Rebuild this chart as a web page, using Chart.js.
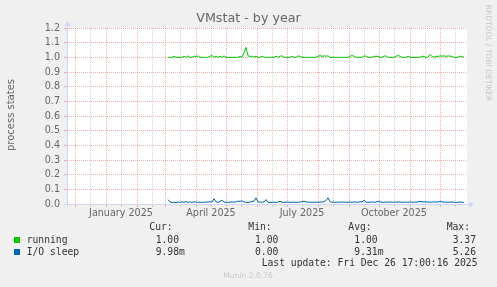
<!DOCTYPE html>
<html>
<head>
<meta charset="utf-8">
<script src="https://cdn.jsdelivr.net/npm/chart.js@4/dist/chart.umd.min.js"></script>
<style>
body { margin: 0; background: #f0f0f0; }
canvas { display: block; }
</style>
</head>
<body>
<canvas id="vmstat" width="497" height="287"></canvas>
<script>
// days are counted from 1 January 2025, one value every 2 days
var firstDay = 62;
var dayStep = 2;
var running = [
    1.00, 1.00, 1.00, 1.008, 1.00, 1.00, 1.00, 1.00, 1.008, 1.00,
    1.01, 1.00, 1.00, 1.008, 1.006, 1.01, 1.00, 1.00, 1.00, 1.00,
    1.00, 1.008, 1.012, 1.00, 1.008, 1.00, 1.008, 1.00, 1.01, 1.00,
    1.00, 1.00, 1.00, 1.00, 1.00, 1.00, 1.008, 1.00, 1.03, 1.068,
    1.01, 1.006, 1.008, 1.00, 1.008, 1.00, 1.00, 1.008, 1.00, 1.00,
    1.00, 1.00, 1.00, 1.00, 1.008, 1.00, 1.008, 1.01, 1.00, 1.00,
    1.00, 1.00, 1.008, 1.00, 1.00, 1.01, 1.006, 1.00, 1.00, 1.00,
    1.00, 1.00, 1.00, 1.00, 1.00, 1.008, 1.012, 1.006, 1.01, 1.008,
    1.01, 1.00, 1.00, 1.00, 1.00, 1.00, 1.00, 1.00, 1.00, 1.00,
    1.00, 1.008, 1.012, 1.008, 1.00, 1.00, 1.00, 1.00, 1.01, 1.008,
    1.00, 1.00, 1.00, 1.008, 1.006, 1.008, 1.00, 1.00, 1.008, 1.01,
    1.00, 1.00, 1.00, 1.00, 1.008, 1.012, 1.008, 1.00, 1.00, 1.00,
    1.008, 1.00, 1.00, 1.00, 1.00, 1.00, 1.00, 1.008, 1.006, 1.00,
    1.00, 1.02, 1.006, 1.00, 1.008, 1.006, 1.01, 1.008, 1.01, 1.006,
    1.01, 1.008, 1.006, 1.00, 1.00, 1.00, 1.008, 1.006, 1.00
];
var ioSleep = [
    0.03, 0.014, 0.01, 0.012, 0.01, 0.013, 0.011, 0.014, 0.012, 0.016,
    0.012, 0.014, 0.011, 0.015, 0.013, 0.012, 0.012, 0.012, 0.011, 0.014,
    0.012, 0.016, 0.013, 0.036, 0.014, 0.012, 0.016, 0.026, 0.013, 0.011,
    0.012, 0.012, 0.015, 0.013, 0.014, 0.02, 0.018, 0.022, 0.014, 0.012,
    0.011, 0.013, 0.016, 0.02, 0.042, 0.014, 0.013, 0.012, 0.014, 0.03,
    0.012, 0.01, 0.011, 0.012, 0.011, 0.013, 0.018, 0.012, 0.011, 0.012,
    0.013, 0.011, 0.012, 0.013, 0.011, 0.012, 0.013, 0.015, 0.02, 0.014,
    0.012, 0.013, 0.011, 0.012, 0.013, 0.012, 0.014, 0.013, 0.016, 0.024,
    0.042, 0.016, 0.012, 0.013, 0.011, 0.013, 0.012, 0.014, 0.012, 0.013,
    0.011, 0.013, 0.012, 0.014, 0.013, 0.012, 0.016, 0.014, 0.026, 0.013,
    0.011, 0.012, 0.014, 0.012, 0.013, 0.018, 0.014, 0.012, 0.011, 0.013,
    0.012, 0.014, 0.012, 0.013, 0.012, 0.014, 0.013, 0.011, 0.012, 0.013,
    0.012, 0.014, 0.012, 0.013, 0.012, 0.015, 0.018, 0.014, 0.016, 0.013,
    0.014, 0.012, 0.013, 0.015, 0.013, 0.014, 0.017, 0.014, 0.013, 0.012,
    0.013, 0.012, 0.014, 0.012, 0.011, 0.012, 0.013, 0.012, 0.01
];
var yTicks = [0, 0.1, 0.2, 0.3, 0.4, 0.5, 0.6, 0.7, 0.8, 0.9, 1.0, 1.1, 1.2];
var monthStarts = [-31, 0, 31, 59, 90, 120, 151, 181, 212, 243, 273, 304, 334];
var midMonths = [-16, 15, 46, 74, 105, 135, 166, 196, 227, 258, 288, 319, 349];
var labelDays = [15, 105, 196, 288];
var labelTexts = ["January 2025", "April 2025", "July 2025", "October 2025"];

var legendNames = ["running", "I/O sleep"];
var legendCur = ["1.00", "9.98m"];
var legendMin = ["1.00", "0.00"];
var legendAvg = ["1.00", "9.31m"];
var legendMax = ["3.37", "5.26"];
var lastUpdate = "Last update: Fri Dec 26 17:00:16 2025";

var colors = ["#00cc00", "#0066b3"];
var gridColor = "rgba(143,143,143,0.4)";
var mgridColor = "rgba(222,79,79,0.45)";
var axisColor = "#cfd6f8";
var fontColor = "#666666";

function toPoints(values) {
    return values.map(function (v, i) { return { x: firstDay + i * dayStep, y: v }; });
}
var xTicks = monthStarts.concat(midMonths).sort(function (a, b) { return a - b; });

var munin = {
    id: 'munin',
    beforeDraw: function (chart) {
        var c = chart.ctx, a = chart.chartArea;
        c.save();
        c.fillStyle = "#f0f0f0";
        c.fillRect(0, 0, chart.width, chart.height);
        c.fillStyle = "#ffffff";
        c.fillRect(a.left, a.top, a.right - a.left, a.bottom - a.top);
        c.restore();
    },
    afterDraw: function (chart) {
        var c = chart.ctx, a = chart.chartArea;
        c.save();
        // axes with arrows
        c.strokeStyle = axisColor;
        c.fillStyle = axisColor;
        c.lineWidth = 1;
        c.beginPath();
        c.moveTo(a.left - 3, a.bottom + 0.5);
        c.lineTo(a.right + 2, a.bottom + 0.5);
        c.moveTo(a.left + 0.5, a.bottom + 3);
        c.lineTo(a.left + 0.5, a.top - 2);
        c.stroke();
        c.beginPath();
        c.moveTo(a.right + 7, a.bottom + 0.5);
        c.lineTo(a.right + 2, a.bottom - 2.5);
        c.lineTo(a.right + 2, a.bottom + 3.5);
        c.fill();
        c.beginPath();
        c.moveTo(a.left + 0.5, a.top - 7);
        c.lineTo(a.left - 2.5, a.top - 2);
        c.lineTo(a.left + 3.5, a.top - 2);
        c.fill();

        c.fillStyle = fontColor;
        c.textBaseline = "middle";
        c.textAlign = "center";
        c.font = "12.7px 'DejaVu Sans'";
        c.fillText("VMstat - by year", 248.5, 19);

        c.save();
        c.translate(11, 115);
        c.rotate(-Math.PI / 2);
        c.font = "10px 'DejaVu Sans'";
        c.fillText("process states", 0, 0);
        c.restore();

        c.save();
        c.fillStyle = "#c8c8c8";
        c.translate(488, 53);
        c.rotate(Math.PI / 2);
        c.font = "7.5px 'DejaVu Sans'";
        c.fillText("RRDTOOL / TOBI OETIKER", 0, 0);
        c.restore();

        c.fillStyle = "#c8c8c8";
        c.font = "7.6px 'DejaVu Sans'";
        c.fillText("Munin 2.0.76", 248, 276);

        // legend table
        c.textAlign = "left";
        c.fillStyle = "#333333";
        c.font = "9.7px 'DejaVu Sans Mono'";
        c.fillText("Cur:", 149.3, 227.3);
        c.fillText("Min:", 248.3, 227.3);
        c.fillText("Avg:", 348.3, 227.3);
        c.fillText("Max:", 446.7, 227.3);
        for (var i = 0; i < legendNames.length; i++) {
            var y = 240 + i * 12;
            c.fillStyle = colors[i];
            c.fillRect(14, y - 3, 6, 6);
            c.fillStyle = "#333333";
            c.fillText(legendNames[i], 26.7, y);
            c.fillText(legendCur[i], 155.7, y);
            c.fillText(legendMin[i], 255, y);
            c.fillText(legendAvg[i], 354.3, y);
            c.fillText(legendMax[i], 452.7, y);
        }
        c.fillText(lastUpdate, 261.7, 263.5);
        c.restore();
    }
};

var chart = new Chart(document.getElementById("vmstat"), {
    type: 'line',
    data: {
        datasets: [
            { label: legendNames[0], data: toPoints(running), borderColor: colors[0], borderWidth: 1, pointRadius: 0, tension: 0 },
            { label: legendNames[1], data: toPoints(ioSleep), borderColor: colors[1], borderWidth: 1, pointRadius: 0, tension: 0 }
        ]
    },
    options: {
        responsive: false,
        animation: false,
        events: [],
        layout: { padding: { left: 0, right: 30, top: 28, bottom: 69 } },
        plugins: { legend: { display: false }, tooltip: { enabled: false } },
        scales: {
            x: {
                type: 'linear',
                min: -39,
                max: 361,
                afterBuildTicks: function (s) { s.ticks = xTicks.map(function (v) { return { value: v }; }); },
                afterFit: function (s) { s.height = 14; },
                grid: {
                    color: function (ctx) { return ctx.tick && monthStarts.indexOf(ctx.tick.value) >= 0 ? mgridColor : gridColor; },
                    tickLength: 3
                },
                border: { display: false, dash: [1, 1] },
                ticks: {
                    autoSkip: false,
                    maxRotation: 0,
                    padding: 1,
                    color: fontColor,
                    font: { family: 'DejaVu Sans', size: 9.6 },
                    callback: function (v) { var k = labelDays.indexOf(v); return k >= 0 ? labelTexts[k] : ''; }
                }
            },
            y: {
                min: 0,
                max: 1.2,
                afterBuildTicks: function (s) { s.ticks = yTicks.map(function (v) { return { value: v }; }); },
                afterFit: function (s) { s.width = 67; },
                grid: { color: mgridColor, tickLength: 3 },
                border: { display: false, dash: [1, 1] },
                ticks: {
                    autoSkip: false,
                    padding: 4,
                    color: fontColor,
                    font: { family: 'DejaVu Sans', size: 9.6 },
                    callback: function (v) { return v.toFixed(1); }
                }
            }
        }
    },
    plugins: [munin]
});
</script>
</body>
</html>
